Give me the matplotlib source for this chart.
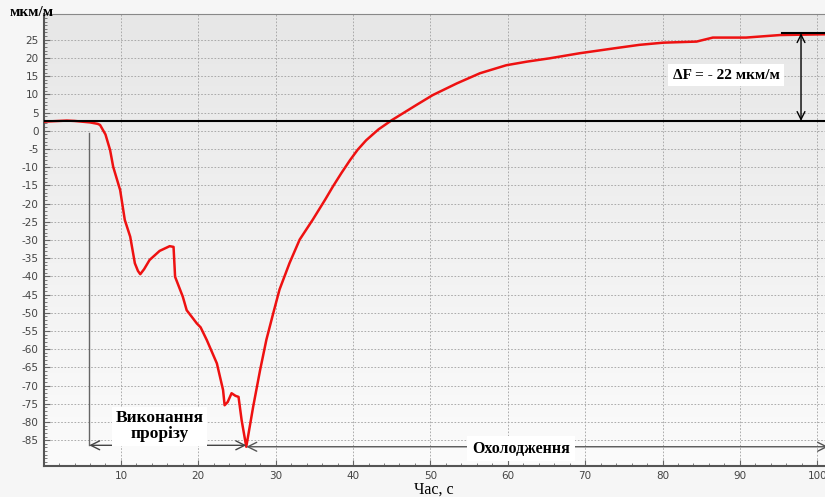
import numpy as np
import matplotlib.pyplot as plt
from matplotlib.ticker import MultipleLocator

plt.rcParams['axes.unicode_minus'] = False

# Дані деформації (мкм/м) у часі (с)
time = [0, 1, 2, 3, 4, 5, 6, 7, 7.3, 8, 8.6, 9.0, 9.9, 10.5, 11.2, 11.8,
        12.2, 12.5, 13.0, 13.7, 15.0, 16.3, 16.8, 17.0, 18.0, 18.5, 19.3,
        19.8, 20.3, 21.1, 22.4, 23.2, 23.4, 23.8, 24.3, 24.8, 25.2, 25.6,
        26.2, 27.1, 28.0, 28.8, 29.7, 30.5, 31.8, 33.1, 34.8, 36.4, 37.4,
        38.5, 39.6, 40.6, 41.7, 43.3, 45.0, 48.2, 50.3, 53.4, 56.4, 59.8,
        62.5, 65.4, 69.3, 73.6, 77.0, 80.1, 84.4, 86.5, 90.8, 95.2, 101]
strain = [2.5, 2.6, 2.7, 2.8, 2.7, 2.5, 2.3, 1.9, 1.6, -1.0, -5.3, -9.9,
          -16.3, -24.5, -29.1, -36.4, -38.5, -39.4, -38.0, -35.5, -33.0,
          -31.7, -31.9, -40.1, -45.6, -49.3, -51.5, -52.9, -54.0, -57.5,
          -63.9, -71.2, -75.4, -74.5, -72.1, -72.8, -73.1, -79.5, -86.8,
          -75.7, -65.6, -57.4, -50.0, -43.6, -36.3, -29.9, -24.4, -18.9,
          -15.3, -11.6, -8.1, -5.2, -2.6, 0.4, 2.9, 7.1, 9.8, 13.0, 15.8,
          18.0, 19.0, 19.9, 21.3, 22.6, 23.6, 24.2, 24.5, 25.6, 25.6, 26.3,
          26.5]

base_level = 2.7
final_level = 26.8
cut_start = 5.9
cut_end = 26.2

serif = ['Liberation Serif', 'DejaVu Serif']

fig = plt.figure(figsize=(8.25, 4.97), dpi=100, facecolor='#f6f6f6')
ax = fig.add_axes([0.0528, 0.063, 0.9472, 0.909])

# градієнтний фон області графіка (зверху темніше, знизу світліше)
shade = np.linspace(0.905, 0.985, 256).reshape(-1, 1)
grad = np.dstack([shade, shade, shade])
ax.imshow(grad, extent=[0, 101, -92, 32.1], aspect='auto',
          origin='upper', zorder=0)
ax.set_xlim(0, 101)
ax.set_ylim(-92, 32.1)

ax.set_xticks([10, 20, 30, 40, 50, 60, 70, 80, 90, 100])
ax.xaxis.set_minor_locator(MultipleLocator(2))
ax.set_yticks(np.arange(-85, 26, 5))
ax.yaxis.set_minor_locator(MultipleLocator(1))
ax.grid(True, which='major', color='#a0a0a0', linestyle=(0, (2, 2)), linewidth=0.6)
ax.tick_params(which='both', direction='in', colors='#666666', labelsize=7.5,
               labelcolor='#444444')
ax.tick_params(which='major', length=4)
ax.tick_params(which='minor', length=2)

for side in ['left', 'bottom']:
    ax.spines[side].set_color('#555555')
    ax.spines[side].set_linewidth(1.5)
ax.spines['top'].set_color('#888888')
ax.spines['right'].set_visible(False)

# крива
ax.plot(time, strain, color='#ee1111', linewidth=1.8, zorder=3)

# рівні
ax.axhline(base_level, color='black', linewidth=1.5, zorder=4)
ax.plot([95.4, 101], [final_level, final_level], color='black', linewidth=1.5,
        zorder=4, clip_on=False)
ax.annotate('', xy=(97.9, base_level), xytext=(97.9, final_level),
            arrowprops=dict(arrowstyle='<->', color='black', lw=1.0,
                            mutation_scale=14, shrinkA=0, shrinkB=0), zorder=5)
ax.text(88.2, 15.3, 'ΔF = - 22 мкм/м', family=serif, fontweight='bold',
        fontsize=11, ha='center', va='center', zorder=6,
        bbox=dict(boxstyle='square,pad=0.3', fc='white', ec='none'))

# виконання прорізу
ax.plot([cut_start, cut_start], [-0.5, -86.4], color='#666666', lw=1.0, zorder=4)
ax.annotate('', xy=(cut_start, -86.4), xytext=(cut_end, -86.4),
            arrowprops=dict(arrowstyle='<->', color='#444444', lw=1.0,
                            mutation_scale=16, shrinkA=0, shrinkB=0), zorder=5)
ax.text(15.0, -81.2, 'Виконання\nпрорізу', family=serif, fontweight='bold',
        fontsize=12.5, ha='center', va='center', linespacing=1.0, zorder=6,
        bbox=dict(boxstyle='square,pad=0.2', fc='white', ec='none'))

# охолодження
ax.annotate('', xy=(101.4, -86.8), xytext=(cut_end, -86.8),
            arrowprops=dict(arrowstyle='<->', color='#555555', lw=1.0,
                            mutation_scale=16, shrinkA=0, shrinkB=0),
            zorder=5, annotation_clip=False)
ax.text(61.7, -87.3, 'Охолодження', family=serif, fontweight='bold',
        fontsize=11.5, ha='center', va='center', zorder=6,
        bbox=dict(boxstyle='square,pad=0.3', fc='white', ec='none'))

ax.set_xlabel('Час, с', family=serif, fontsize=11.5, labelpad=1)
fig.text(0.012, 0.975, 'мкм/м', family=serif, fontweight='bold', fontsize=11,
         ha='left', va='center')

fig.savefig('out.png', dpi=100, facecolor=fig.get_facecolor())
